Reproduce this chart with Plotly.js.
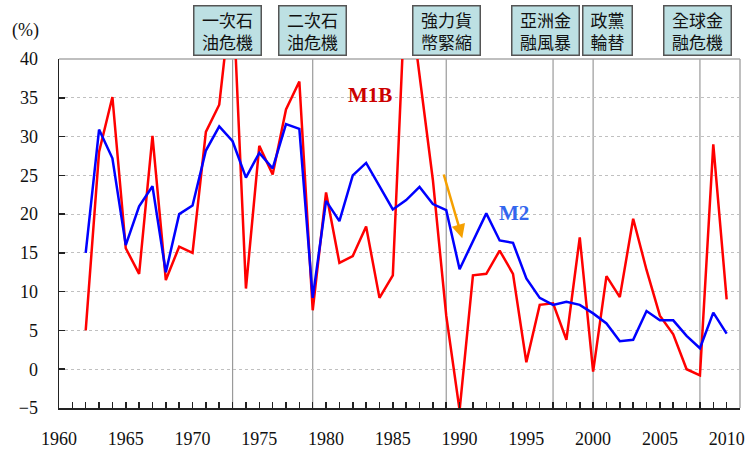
<!DOCTYPE html>
<html>
<head>
<meta charset="utf-8">
<script src="https://cdn.plot.ly/plotly-3.0.1.min.js"></script>
<style>html,body{margin:0;padding:0;background:#fff;}#chart{width:746px;height:452px;}</style>
</head>
<body>
<div id="chart"></div>
<script>
const years = [1962,1963,1964,1965,1966,1967,1968,1969,1970,1971,1972,1973,1974,1975,1976,1977,1978,1979,1980,1981,1982,1983,1984,1985,1986,1987,1988,1989,1990,1991,1992,1993,1994,1995,1996,1997,1998,1999,2000,2001,2002,2003,2004,2005,2006,2007,2008,2009,2010];
const m1b = [5.0,28.0,35.1,15.6,12.3,30.1,11.5,15.8,15.0,30.6,34.1,49.5,10.4,28.8,25.1,33.5,37.1,7.6,22.8,13.7,14.6,18.4,9.2,12.1,51.4,37.8,24.4,6.9,-5.3,12.1,12.3,15.3,12.3,0.9,8.3,8.5,3.8,17.0,-0.3,12.0,9.3,19.4,12.8,6.9,4.5,0.0,-0.8,29.0,9.0];
const m2 = [15.0,30.9,27.2,16.0,21.0,23.6,12.5,20.0,21.1,28.2,31.3,29.4,24.7,27.9,25.9,31.6,31.0,9.2,21.7,19.1,25.0,26.6,23.6,20.6,21.8,23.5,21.3,20.5,12.9,16.4,20.1,16.6,16.3,11.7,9.2,8.3,8.7,8.3,7.2,5.9,3.6,3.8,7.5,6.3,6.3,4.3,2.7,7.3,4.6];
const eventYears = [1973,1979,1989,1997,2000,2008];
const eventLabels = ['一次石<br>油危機','二次石<br>油危機','強力貨<br>幣緊縮','亞洲金<br>融風暴','政黨<br>輪替','全球金<br>融危機'];
const eventLabelX = [1972.6,1979.0,1989.05,1996.4,2001.1,2007.8];
const xTicks = [1960,1965,1970,1975,1980,1985,1990,1995,2000,2005,2010];
const yTicks = [-5,0,5,10,15,20,25,30,35,40];

const serif = 'Liberation Serif, Times New Roman, serif';
const cjk = 'Noto Sans CJK TC, Noto Sans CJK SC, sans-serif';

const traces = [
  {x: years, y: m1b, type:'scatter', mode:'lines', name:'M1B', line:{color:'#ff0000', width:2.5}},
  {x: years, y: m2, type:'scatter', mode:'lines', name:'M2', line:{color:'#0000ff', width:2.5}}
];

const shapes = eventYears.map(yr => ({type:'line', xref:'x', yref:'paper', x0:yr, x1:yr, y0:0, y1:1, line:{color:'#9a9a9a', width:1.2}, layer:'below'}));
shapes.push({type:'line', xref:'paper', yref:'paper', x0:0, x1:1, y0:1, y1:1, line:{color:'#aaaaaa', width:1.5}, layer:'below'});
shapes.push({type:'line', xref:'paper', yref:'paper', x0:1, x1:1, y0:0, y1:1, line:{color:'#aaaaaa', width:1.5}, layer:'below'});

const annotations = eventLabels.map((t,i) => ({
  text: t, xref:'x', yref:'paper', x: eventLabelX[i], y: 1.083, xanchor:'center', yanchor:'middle',
  showarrow:false, font:{family:cjk, size:17, color:'#111'}, bgcolor:'#bde0e3', bordercolor:'#555', borderwidth:1.5, borderpad:2,
  width: t.indexOf('<br>') === 2 ? 44 : 62, height: 44, align:'center'
}));
annotations.push({text:'(%)', xref:'paper', yref:'paper', x:-0.0485, y:1.083, xanchor:'center', yanchor:'middle', showarrow:false, font:{family:serif, size:18, color:'#111'}});
annotations.push({text:'<b>M1B</b>', xref:'x', yref:'y', x:1983.3, y:35.3, showarrow:false, font:{family:serif, size:21, color:'#cc0000'}});
annotations.push({text:'<b>M2</b>', xref:'x', yref:'y', x:1994.1, y:20.2, showarrow:false, font:{family:serif, size:21, color:'#3366ee'}});
annotations.push({text:'', xref:'x', yref:'y', x:1990.2, y:16.9, axref:'x', ayref:'y', ax:1988.78, ay:25.3, showarrow:true, arrowhead:2, arrowsize:1.1, arrowwidth:2.5, arrowcolor:'#f5a000', standoff:0});

const layout = {
  width:746, height:452,
  margin:{l:59, r:6, t:59, b:44},
  paper_bgcolor:'#fff', plot_bgcolor:'#fff',
  showlegend:false,
  xaxis:{range:[1960,2011], tickvals:xTicks, ticks:'inside', ticklen:6, tickwidth:1.5, tickcolor:'#222',
    minor:{dtick:1, tick0:1960, ticks:'inside', ticklen:6, tickwidth:1.5, tickcolor:'#222', showgrid:false},
    showgrid:false, zeroline:false, showline:true, linecolor:'#222', linewidth:1.5,
    tickfont:{family:serif, size:18, color:'#111'}, ticklabelstandoff:14},
  yaxis:{range:[-5,40], tickvals:yTicks, ticks:'inside', ticklen:6, tickwidth:1.5, tickcolor:'#222',
    showgrid:true, gridcolor:'#c0c0c0', griddash:'dot', gridwidth:1, zeroline:false, showline:true, linecolor:'#222', linewidth:1.5,
    tickfont:{family:serif, size:18, color:'#111'}, ticklabelstandoff:16},
  shapes: shapes,
  annotations: annotations
};

Plotly.newPlot('chart', traces, layout, {displayModeBar:false, staticPlot:true});
</script>
</body>
</html>
